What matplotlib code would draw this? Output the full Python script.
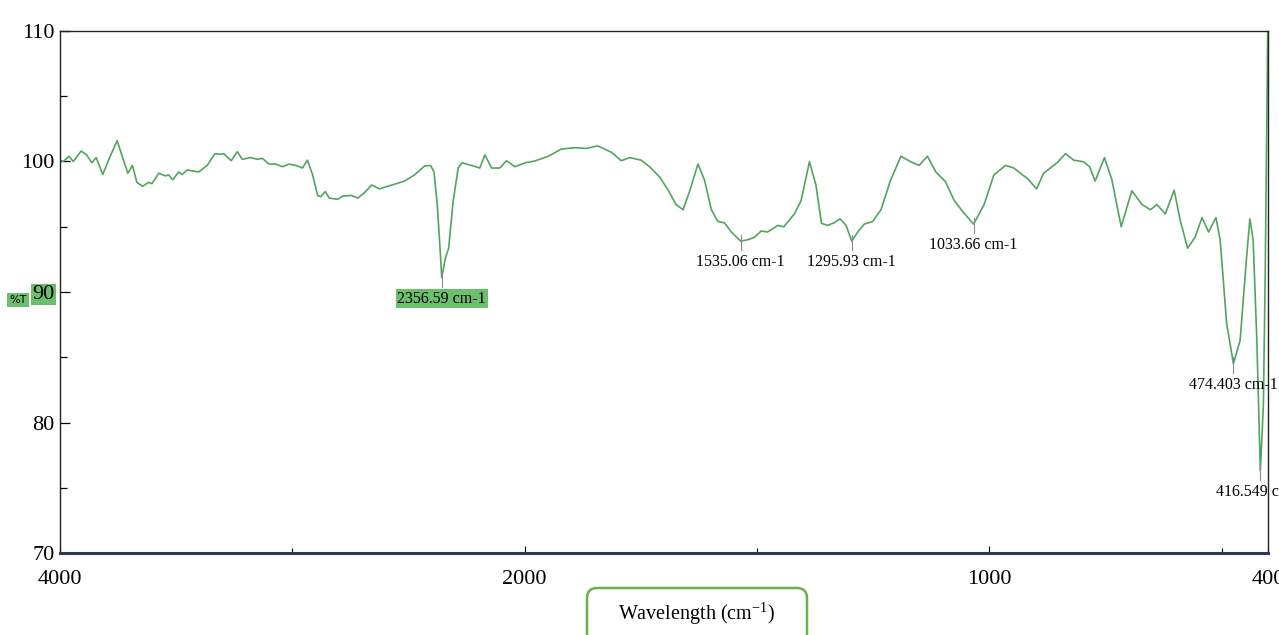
import numpy as np
import matplotlib
matplotlib.use("Agg")
import matplotlib.pyplot as plt
from matplotlib.patches import FancyBboxPatch

plt.rcParams['font.family'] = ['Liberation Serif', 'DejaVu Serif']
plt.rcParams['mathtext.fontset'] = 'custom'
plt.rcParams['mathtext.rm'] = 'Liberation Serif'

# FTIR spectrum: wavenumber (cm-1) and transmittance (%T)
wavenumber = [4000, 3986, 3961, 3943, 3909, 3885, 3863, 3844, 3816, 3791,
              3754, 3708, 3688, 3669, 3644, 3619, 3604, 3575, 3546, 3532,
              3515, 3489, 3474, 3453, 3403, 3366, 3333, 3313, 3295, 3263,
              3237, 3215, 3179, 3150, 3129, 3100, 3071, 3042, 3014, 2985,
              2956, 2935, 2913, 2891, 2877, 2858, 2841, 2805, 2783, 2747,
              2718, 2690, 2658, 2625, 2589, 2553, 2517, 2474, 2431, 2405,
              2390, 2376, 2366, 2356.59, 2341, 2327, 2308, 2286, 2269, 2229,
              2193, 2171, 2142, 2107, 2078, 2042, 1999, 1978, 1949, 1921,
              1892, 1867, 1843, 1813, 1792, 1774, 1749, 1731, 1709, 1691,
              1674, 1659, 1645, 1627, 1613, 1598, 1584, 1570, 1555, 1535.06,
              1520, 1505, 1491, 1477, 1455, 1442, 1419, 1405, 1387, 1373,
              1361, 1348, 1334, 1321, 1308, 1295.93, 1283, 1269, 1251, 1233,
              1212, 1190, 1169, 1151, 1133, 1115, 1094, 1076, 1058, 1033.66,
              1011, 990, 965, 947, 933, 918, 898, 883, 865, 854,
              836, 818, 797, 784, 772, 752, 736, 716, 693, 671,
              653, 639, 621, 602, 589, 573, 557, 542, 528, 512,
              503, 489, 474.403, 460, 446, 439, 432, 424, 416.549, 410,
              406, 403, 400]
transmittance = [100.1, 100.0, 100.4, 100.0, 100.8, 100.5, 99.9, 100.3, 99.0, 100.1,
                 101.6, 99.1, 99.7, 98.4, 98.1, 98.4, 98.3, 99.1, 98.9, 98.97,
                 98.6, 99.2, 99.0, 99.35, 99.2, 99.7, 100.6, 100.55, 100.6, 100.06,
                 100.75, 100.17, 100.3, 100.17, 100.24, 99.8, 99.8, 99.6, 99.8, 99.7,
                 99.5, 100.1, 99.0, 97.4, 97.3, 97.7, 97.2, 97.1, 97.35, 97.4,
                 97.2, 97.6, 98.2, 97.9, 98.1, 98.3, 98.5, 98.97, 99.65, 99.7,
                 99.2, 96.7, 93.9, 91.1, 92.6, 93.35, 96.9, 99.5, 99.9, 99.7,
                 99.5, 100.5, 99.5, 99.5, 100.06, 99.6, 99.9, 100.04, 100.4, 100.95,
                 101.06, 101.0, 101.2, 100.7, 100.06, 100.3, 100.1, 99.6, 98.8, 97.8,
                 96.7, 96.3, 97.7, 99.8, 98.6, 96.3, 95.4, 95.3, 94.6, 93.9,
                 94.0, 94.2, 94.67, 94.6, 95.1, 95.0, 96.0, 97.0, 99.98, 98.2,
                 95.26, 95.1, 95.3, 95.6, 95.1, 93.9, 94.6, 95.2, 95.4, 96.3,
                 98.6, 100.4, 99.98, 99.7, 100.4, 99.2, 98.45, 97.05, 96.2, 95.2,
                 96.7, 98.97, 99.7, 99.5, 99.1, 98.7, 97.9, 99.1, 99.6, 99.9,
                 100.6, 100.1, 99.98, 99.6, 98.5, 100.3, 98.6, 95.0, 97.76, 96.7,
                 96.3, 96.7, 95.98, 97.8, 95.5, 93.35, 94.2, 95.7, 94.6, 95.7,
                 94.0, 87.6, 84.5, 86.3, 92.7, 95.6, 94.0, 86.3, 76.3, 81.2,
                 91.4, 101.6, 112.0]

# labelled absorption bands
peak_wn = [2356.59, 1535.06, 1295.93, 1033.66, 474.403, 416.549]
peak_t = [91.1, 93.9, 93.9, 95.2, 84.5, 76.3]
peak_text = ['2356.59 cm-1', '1535.06 cm-1', '1295.93 cm-1',
             '1033.66 cm-1', '474.403 cm-1', '416.549 cm-1']


# the region above 2000 cm-1 is compressed by a factor of two
def forward(x):
    x = np.asarray(x, dtype=float)
    return np.where(x <= 2000, x, 2000 + (x - 2000) / 2)


def inverse(u):
    u = np.asarray(u, dtype=float)
    return np.where(u <= 2000, u, 2000 + (u - 2000) * 2)


fig = plt.figure(figsize=(12.79, 6.35), dpi=100)
ax = fig.add_axes([0.0469, 0.1291, 0.9445, 0.8221])
ax.set_xscale('function', functions=(forward, inverse))

green = '#52a461'
ax.plot(wavenumber, transmittance, color=green, lw=1.2, solid_joinstyle='round')

for wn, t, txt in zip(peak_wn, peak_t, peak_text):
    ax.plot([wn, wn], [t + 0.5, t - 0.7], color='#8a8a8a', lw=0.8)
    bbox = None
    if wn == 2356.59:
        bbox = dict(boxstyle='square,pad=0.1', fc='#6cbf6c', ec='none')
    ax.text(wn, t - 1.6, txt, ha='center', va='center', fontsize=11.5,
            bbox=bbox, clip_on=False)

ax.set_xlim(4000, 400)
ax.set_ylim(70, 110)

ax.set_xticks([4000, 2000, 1000, 400])
ax.set_xticklabels(['4000', '2000', '1000', '400'])
ax.set_xticks([3000, 1500, 500], minor=True)
ax.set_yticks([70, 80, 90, 100, 110])
ax.set_yticks([75, 85, 95, 105], minor=True)

ax.tick_params(axis='x', which='both', direction='in', labelsize=16, pad=12)
ax.tick_params(axis='x', which='major', length=5, width=0.8)
ax.tick_params(axis='x', which='minor', length=3.5, width=0.8)
ax.tick_params(axis='y', which='both', direction='in', labelsize=16, pad=4)
ax.tick_params(axis='y', which='major', length=7, width=0.9)
ax.tick_params(axis='y', which='minor', length=5, width=0.9)

for lab in ax.get_yticklabels():
    if lab.get_text() == '90':
        lab.set_bbox(dict(boxstyle='square,pad=0.05', fc='#6cbf6c', ec='none'))

ax.spines['bottom'].set_color('#2e3a55')
ax.spines['bottom'].set_linewidth(2.2)
for side in ['left', 'top', 'right']:
    ax.spines[side].set_color('#222222')
    ax.spines[side].set_linewidth(1.0)

fig.text(18 / 1279, 1 - 300 / 635, '%T', fontsize=8, family='DejaVu Sans',
         ha='center', va='center',
         bbox=dict(boxstyle='square,pad=0.2', fc='#6cbf6c', ec='none'))

# rounded frame around the axis title, running off the bottom edge
frame = FancyBboxPatch((5.87, -0.3), 2.20, 0.77,
                       boxstyle='round,pad=0,rounding_size=0.1',
                       transform=fig.dpi_scale_trans, fc='white',
                       ec='#6ab04c', lw=1.8)
fig.add_artist(frame)
fig.text(697 / 1279, 1 - 614 / 635, r'Wavelength (cm$^{\mathregular{-1}}$)',
         fontsize=14.5, ha='center', va='center')

fig.savefig('out.png', dpi=100)
